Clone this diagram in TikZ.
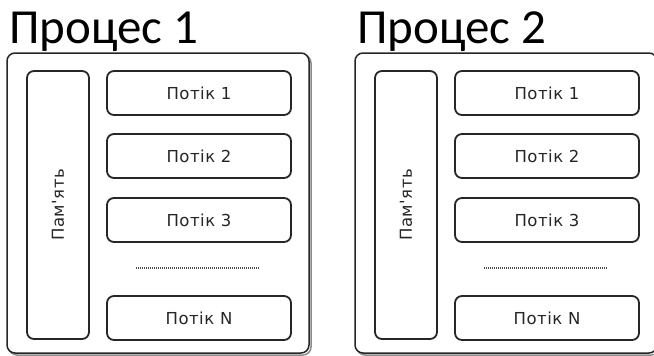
\documentclass[tikz,border=0pt]{standalone}
\usepackage{fontspec}
\setmainfont{Carlito}
\newfontfamily\labelfont[LetterSpace=3]{DejaVu Sans}
\begin{document}
\begin{tikzpicture}[x=1pt,y=-1pt,
  procbox/.style={draw=black!85, line width=1.5pt, rounded corners=8pt, fill=white,
    minimum width=302pt, minimum height=300pt, inner sep=0pt},
  procshadow/.style={draw=black!45, line width=1.5pt, rounded corners=8pt,
    minimum width=302pt, minimum height=300pt, inner sep=0pt},
  membox/.style={draw=black!85, line width=1.8pt, rounded corners=7pt, rotate=90,
    minimum width=268pt, minimum height=62pt, inner sep=0pt,
    font=\labelfont\fontsize{16.5}{16.5}\selectfont, text=black!85},
  threadbox/.style={draw=black!85, line width=1.8pt, rounded corners=7pt,
    minimum width=184pt, minimum height=44pt, inner sep=0pt,
    font=\labelfont\fontsize{16.5}{16.5}\selectfont, text=black!85},
  proctitle/.style={font=\fontsize{49}{49}\selectfont, anchor=base west, inner sep=0pt},
  ellipsisline/.style={draw=black!70, line width=1.3pt, dash pattern=on 1pt off 1pt}]
  \useasboundingbox (0,0) rectangle (654,356);
  \foreach \n/\dx in {1/0, 2/348} {
    % process frame with a soft offset shadow
    \node[procshadow] (shadow\n) at (160+\dx,205) {};
    \node[procbox] (proc\n) at (158+\dx,203) {};
    \node[proctitle] (title\n) at (9+\dx,43) {Процес \n};
    % shared memory column
    \node[membox] (mem\n) at (58+\dx,205) {Пам'ять};
    % threads
    \node[threadbox] (t\n a) at (199+\dx,93) {Потік 1};
    \node[threadbox] (t\n b) at (199+\dx,156) {Потік 2};
    \node[threadbox] (t\n c) at (199+\dx,220) {Потік 3};
    \node[threadbox] (t\n n) at (199+\dx,318) {Потік N};
    \draw[ellipsisline] (136+\dx,268) -- (259+\dx,268);
  }
\end{tikzpicture}
\end{document}
